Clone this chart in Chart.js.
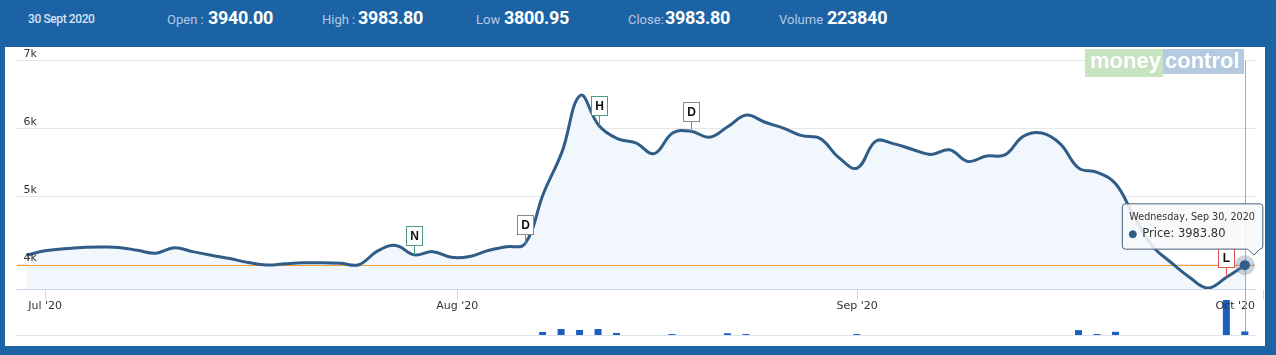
<!DOCTYPE html>
<html>
<head>
<meta charset="utf-8">
<script src="https://cdn.jsdelivr.net/npm/chart.js@4.4.1/dist/chart.umd.min.js"></script>
<style>
  html, body { margin: 0; padding: 0; }
  body { width: 1276px; height: 355px; background: #1c63a6; position: relative; overflow: hidden; font-family: Roboto, sans-serif; }
  .hd { position: absolute; white-space: nowrap; line-height: 1; }
  .date { color: #d6e3f0; font-size: 12px; font-weight: 500; top: 13px; letter-spacing: -0.4px; }
  .lbl { color: #b4c9e1; font-size: 13px; top: 13px; }
  .val { color: #fff; font-size: 18px; font-weight: 700; top: 9px; letter-spacing: -0.3px; }
  #panel { position: absolute; left: 5px; top: 47px; width: 1260px; height: 299px; background: #fff; }
  #vol { position: absolute; left: 15px; top: 297px; }
  #price { position: absolute; left: 15px; top: 47px; }
  #logo { position: absolute; left: 1085px; top: 49px; display: flex; font: bold 22px "Liberation Sans", Arial, sans-serif; color: #fff; line-height: 24px; }
  #logo .m { background: #c7e3c2; width: 73px; height: 28px; padding-left: 5px; }
  #logo .c { background: #b5cae1; width: 79px; height: 25px; padding-left: 2px; }
</style>
</head>
<body>
<div class="hd date" style="left:28px">30 Sept 2020</div>
<div class="hd lbl" style="left:167px">Open :</div><div class="hd val" style="left:208px">3940.00</div>
<div class="hd lbl" style="left:322px">High :</div><div class="hd val" style="left:358px">3983.80</div>
<div class="hd lbl" style="left:476px">Low</div><div class="hd val" style="left:504px">3800.95</div>
<div class="hd lbl" style="left:628px">Close:</div><div class="hd val" style="left:665px">3983.80</div>
<div class="hd lbl" style="left:779px">Volume</div><div class="hd val" style="left:827px">223840</div>

<div id="panel"></div>
<canvas id="vol" width="1250" height="40"></canvas>
<canvas id="price" width="1250" height="268"></canvas>
<div id="logo"><span class="m">money</span><span class="c">control</span></div>

<script>
// trading days, Jun 30 - Sep 30 2020 (ordinal axis: one slot per session)
const tradingDays = [
    '2020-06-30',
    '2020-07-01', '2020-07-02', '2020-07-03', '2020-07-06', '2020-07-07', '2020-07-08', '2020-07-09', '2020-07-10',
    '2020-07-13', '2020-07-14', '2020-07-15', '2020-07-16', '2020-07-17', '2020-07-20', '2020-07-21', '2020-07-22',
    '2020-07-23', '2020-07-24', '2020-07-27', '2020-07-28', '2020-07-29', '2020-07-30', '2020-07-31',
    '2020-08-03', '2020-08-04', '2020-08-05', '2020-08-06', '2020-08-07', '2020-08-10', '2020-08-11', '2020-08-12',
    '2020-08-13', '2020-08-14', '2020-08-17', '2020-08-18', '2020-08-19', '2020-08-20', '2020-08-21', '2020-08-24',
    '2020-08-25', '2020-08-26', '2020-08-27', '2020-08-28', '2020-08-31',
    '2020-09-01', '2020-09-02', '2020-09-03', '2020-09-04', '2020-09-07', '2020-09-08', '2020-09-09', '2020-09-10',
    '2020-09-11', '2020-09-14', '2020-09-15', '2020-09-16', '2020-09-17', '2020-09-18', '2020-09-21', '2020-09-22',
    '2020-09-23', '2020-09-24', '2020-09-25', '2020-09-28', '2020-09-29', '2020-09-30'
];

const prices = [
    4130, 4195, 4225, 4245, 4250, 4245, 4203, 4160, 4241, 4183,
    4130, 4081, 4023, 3985, 4004, 4019, 4019, 4010, 3990, 4190,
    4275, 4135, 4183, 4100, 4112, 4200, 4255, 4299, 5040, 5650,
    6487, 6043, 5849, 5787, 5628, 5932, 5957, 5870, 6029, 6197,
    6091, 6004, 5893, 5849, 5570, 5415, 5812, 5772, 5690, 5617,
    5685, 5512, 5594, 5609, 5884, 5932, 5772, 5415, 5352, 5183,
    4700, 4265, 4023, 3806, 3646, 3805, 3983.80
];

// sessions with no visible column are read as 0
const volumes = [
    0, 0, 0, 0, 0, 0, 0, 0, 0, 0,
    0, 0, 0, 0, 0, 0, 0, 0, 0, 0,
    0, 0, 0, 0, 0, 0, 0, 0, 190000, 380000,
    320000, 380000, 130000, 0, 0, 60000, 0, 0, 110000, 60000,
    0, 0, 0, 0, 0, 60000, 0, 0, 0, 0,
    0, 0, 0, 0, 0, 0, 0, 310000, 60000, 200000,
    0, 0, 0, 0, 0, 2210000, 223840
];

// month ticks on the ordinal axis (Aug 1 and Oct 1 fall between sessions)
const monthLabels = ["Jul '20", "Aug '20", "Sep '20", "Oct '20"];
const monthTickIndex = [1, 23.33, 45, 67];
const yTicks = [4000, 5000, 6000, 7000];

// event flags
const flagIndex = [21, 27, 31, 36, 65];
const flagText = ['N', 'D', 'H', 'D', 'L'];

const hoverIndex = 66;
const xMin = -0.55, xMax = 66.55;
const yMin = 3632, yMax = 7000;
const volMax = 2400000;

const lineColor = '#2f5d87';
const crossColor = '#f5a030';
const flagColors = { N: '#4f9c80', H: '#4f9c80', D: '#8a8a8a', L: '#d9534f' };

Chart.defaults.font.family = '"DejaVu Sans", Verdana, sans-serif';
Chart.defaults.color = '#333';

Chart.Tooltip.positioners.flagSide = function (items) {
    if (!items.length) return false;
    const el = items[0].element;
    return { x: el.x + 9, y: el.y };
};

const crosshairPlugin = {
    id: 'crosshair',
    beforeDatasetsDraw(chart, args, opts) {
        const { ctx, chartArea, scales } = chart;
        const x = Math.round(scales.x.getPixelForValue(hoverIndex)) + 0.5;
        ctx.save();
        ctx.strokeStyle = crossColor;
        ctx.lineWidth = 1;
        ctx.beginPath();
        ctx.moveTo(x, opts.fromTop ? 0 : chartArea.top);
        ctx.lineTo(x, opts.toBottom ? chart.height : chartArea.bottom);
        if (opts.horizontal) {
            const y = Math.round(scales.y.getPixelForValue(prices[hoverIndex])) + 0.5;
            ctx.moveTo(chartArea.left, y);
            ctx.lineTo(chartArea.right, y);
        }
        ctx.stroke();
        ctx.restore();
    }
};

const flagsPlugin = {
    id: 'flags',
    afterDatasetsDraw(chart) {
        const { ctx } = chart;
        const pts = chart.getDatasetMeta(0).data;
        ctx.save();
        flagIndex.forEach((idx, k) => {
            const p = pts[idx];
            const letter = flagText[k];
            const x = Math.round(p.x) + 0.5;
            const top = Math.round(p.y - 29) + 0.5;
            ctx.strokeStyle = flagColors[letter];
            ctx.lineWidth = 1;
            ctx.beginPath();
            ctx.moveTo(x, p.y);
            ctx.lineTo(x, top + 19);
            ctx.stroke();
            ctx.fillStyle = '#fff';
            ctx.fillRect(x - 8, top, 16, 19);
            ctx.strokeRect(x - 8, top, 16, 19);
            ctx.fillStyle = '#111';
            ctx.font = 'bold 12px "Liberation Sans", Arial, sans-serif';
            ctx.textAlign = 'center';
            ctx.textBaseline = 'middle';
            ctx.fillText(letter, x, top + 10);
        });
        // hovered point marker
        const h = pts[hoverIndex];
        ctx.fillStyle = 'rgba(110,130,150,0.35)';
        ctx.beginPath();
        ctx.arc(h.x, h.y, 10, 0, Math.PI * 2);
        ctx.fill();
        ctx.fillStyle = lineColor;
        ctx.beginPath();
        ctx.arc(h.x, h.y, 5, 0, Math.PI * 2);
        ctx.fill();
        ctx.restore();
    }
};

// keep edge labels inside the plot, like Highcharts does
const keepLabelsInside = {
    id: 'keepLabelsInside',
    beforeDraw(chart) {
        const s = chart.scales.x;
        const ctx = chart.ctx;
        s.getLabelItems().forEach(it => {
            ctx.save();
            ctx.font = it.font.string;
            const w = ctx.measureText(it.label).width;
            ctx.restore();
            const t = it.options.translation;
            if (t[0] + w / 2 > s.right) t[0] = s.right - w / 2;
        });
    }
};

new Chart(document.getElementById('vol'), {
    type: 'bar',
    data: {
        datasets: [{
            data: volumes.map((v, i) => ({ x: i, y: v })),
            backgroundColor: '#1c5fbf',
            barThickness: 7,
            inflateAmount: 0
        }]
    },
    options: {
        responsive: false,
        animation: false,
        events: [],
        layout: { padding: { left: 0, right: 10, top: 0, bottom: 2 } },
        plugins: {
            legend: { display: false },
            tooltip: { enabled: false },
            crosshair: { fromTop: true }
        },
        scales: {
            x: {
                type: 'linear', min: xMin, max: xMax, offset: false,
                ticks: { display: false },
                grid: { display: false },
                border: { display: true, color: '#dde3ec' },
                afterFit: s => { s.height = 0; s.paddingLeft = 0; s.paddingRight = 0; }
            },
            y: { display: false, min: 0, max: volMax, grid: { display: false } }
        }
    },
    plugins: [crosshairPlugin]
});

const priceChart = new Chart(document.getElementById('price'), {
    type: 'line',
    data: {
        datasets: [{
            label: 'Price',
            data: prices.map((v, i) => ({ x: i, y: v })),
            borderColor: lineColor,
            borderWidth: 3,
            backgroundColor: '#f1f7fd',
            fill: 'start',
            tension: 0.4,
            pointRadius: 0,
            pointHoverRadius: 0
        }]
    },
    options: {
        responsive: false,
        animation: false,
        events: [],
        layout: { padding: { left: 0, right: 10, top: 9, bottom: 0 } },
        plugins: {
            legend: { display: false },
            filler: { drawTime: 'beforeDatasetsDraw' },
            crosshair: { horizontal: true, toBottom: true },
            tooltip: {
                position: 'flagSide',
                xAlign: 'right',
                yAlign: 'bottom',
                backgroundColor: 'rgba(247,248,250,0.88)',
                borderColor: '#4a6078',
                borderWidth: 1,
                cornerRadius: 3,
                caretSize: 6,
                caretPadding: 10,
                padding: { top: 8, bottom: 8, left: 7, right: 8 },
                titleColor: '#333',
                bodyColor: '#333',
                titleFont: { size: 9.6, weight: 'normal' },
                bodyFont: { size: 11.5 },
                titleMarginBottom: 4,
                displayColors: true,
                usePointStyle: true,
                boxWidth: 7,
                boxHeight: 7,
                boxPadding: 4,
                callbacks: {
                    title: items => new Date(tradingDays[items[0].dataIndex] + 'T00:00:00')
                        .toLocaleDateString('en-US', { weekday: 'long', month: 'short', day: 'numeric', year: 'numeric' }),
                    label: item => 'Price: ' + item.parsed.y.toFixed(2),
                    labelColor: () => ({ borderColor: lineColor, backgroundColor: lineColor, borderWidth: 0 }),
                    labelPointStyle: () => ({ pointStyle: 'circle', rotation: 0 })
                }
            }
        },
        scales: {
            x: {
                type: 'linear', min: xMin, max: xMax, bounds: 'data',
                afterBuildTicks: s => { s.ticks = monthTickIndex.map(v => ({ value: v })); },
                afterFit: s => { s.height = 26; s.paddingLeft = 0; s.paddingRight = 0; },
                ticks: {
                    autoSkip: false, maxRotation: 0, padding: 1,
                    font: { size: 11 }, color: '#333',
                    callback: (v, idx) => monthLabels[idx]
                },
                grid: { drawOnChartArea: false, drawTicks: true, tickLength: 10, tickColor: '#ccd6eb' },
                border: { display: true, color: '#ccd6eb' }
            },
            y: {
                position: 'left', min: yMin, max: yMax, bounds: 'data',
                afterBuildTicks: s => { s.ticks = yTicks.map(v => ({ value: v })); },
                afterFit: s => { s.width = 0; },
                ticks: {
                    mirror: true, padding: 7, labelOffset: -6, z: 1,
                    font: { size: 11 }, color: '#333',
                    callback: v => (v / 1000) + 'k'
                },
                grid: { color: '#e6e6e6', drawTicks: false },
                border: { display: false }
            }
        }
    },
    plugins: [crosshairPlugin, flagsPlugin, keepLabelsInside]
});

priceChart.tooltip.setActiveElements([{ datasetIndex: 0, index: hoverIndex }], { x: 0, y: 0 });
priceChart.update();
</script>
</body>
</html>
